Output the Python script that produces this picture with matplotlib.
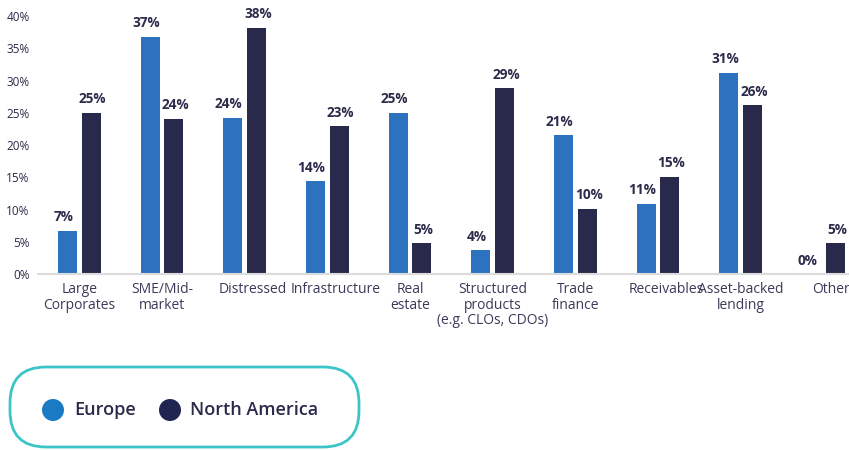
import matplotlib
matplotlib.use("Agg")
import matplotlib.pyplot as plt
import matplotlib.transforms as mtransforms
from matplotlib.patches import FancyBboxPatch, Circle
import numpy as np

plt.rcParams["font.family"] = ["Open Sans", "DejaVu Sans"]

# data
categories = ["Large\nCorporates", "SME/Mid-\nmarket", "Distressed", "Infrastructure",
              "Real\nestate", "Structured\nproducts\n(e.g. CLOs, CDOs)", "Trade\nfinance",
              "Receivables", "Asset-backed\nlending", "Other"]
europe = [6.7, 36.8, 24.2, 14.4, 25.0, 3.7, 21.5, 10.9, 31.2, 0.0]
north_america = [25.0, 24.1, 38.2, 22.9, 4.8, 28.8, 10.1, 15.1, 26.2, 4.8]
europe_labels = ["7%", "37%", "24%", "14%", "25%", "4%", "21%", "11%", "31%", "0%"]
na_labels = ["25%", "24%", "38%", "23%", "5%", "29%", "10%", "15%", "26%", "5%"]
yticks = [0, 5, 10, 15, 20, 25, 30, 35, 40]

c_eu = "#2d72bf"
c_na = "#29294b"
txt = "#2a2a4a"

W, H = 849, 450
fig = plt.figure(figsize=(W / 100, H / 100), dpi=100)
ax = fig.add_axes([38 / W, 1 - 274 / H, 1 - 38 / W, (274 - 16) / H])

x = np.arange(len(categories))
w = 0.23
off = 0.142
ax.bar(x - off, europe, w, color=c_eu)
ax.bar(x + off, north_america, w, color=c_na)

for xi, v, lab in zip(x, europe, europe_labels):
    ax.text(xi - off - 0.05, v + 1.0, lab, ha="center", va="bottom",
            fontsize=9.8, fontweight="bold", color=txt)
for xi, v, lab in zip(x, north_america, na_labels):
    ax.text(xi + off + 0.02, v + 1.0, lab, ha="center", va="bottom",
            fontsize=9.8, fontweight="bold", color=txt)

ax.set_ylim(0, 40)
ax.set_xlim(-0.5, 9.31)
ax.set_yticks(yticks)
ax.set_yticklabels([f"{t}%" for t in yticks], fontsize=8.5, color=txt)
ax.set_xticks(x)
ax.set_xticklabels(categories, fontsize=10, color="#3a3a5a", linespacing=1.05)
ax.tick_params(axis="both", length=0)
ax.tick_params(axis="x", pad=6)
ax.tick_params(axis="y", pad=6)
# single-line category labels sit a little right of the group centre in the original
for lab in ax.get_xticklabels():
    if "\n" not in lab.get_text():
        lab.set_transform(lab.get_transform() +
                          mtransforms.ScaledTranslation(8 / 100, 0, fig.dpi_scale_trans))
for s in ["top", "right", "left"]:
    ax.spines[s].set_visible(False)
ax.spines["bottom"].set_color("#dcdcdc")
ax.spines["bottom"].set_linewidth(1.5)

# legend drawn in pixel coordinates on an overlay axes
lg = fig.add_axes([0, 0, 1, 1], zorder=-1)
lg.set_xlim(0, W)
lg.set_ylim(H, 0)
lg.axis("off")
lg.add_patch(FancyBboxPatch((10, 367), 349, 80,
                            boxstyle="round,pad=0,rounding_size=36",
                            facecolor="white", edgecolor="#3cc5c8", linewidth=2))
lg.add_patch(Circle((53, 410), 11, facecolor="#1a7ac4", edgecolor="none"))
lg.add_patch(Circle((170, 410), 11, facecolor="#1f2550", edgecolor="none"))
lg.text(74, 410, "Europe", fontsize=13, fontweight="semibold", color=txt, va="center")
lg.text(190, 410, "North America", fontsize=13, fontweight="semibold", color=txt, va="center")

fig.savefig("out.png", dpi=100, facecolor="white")
